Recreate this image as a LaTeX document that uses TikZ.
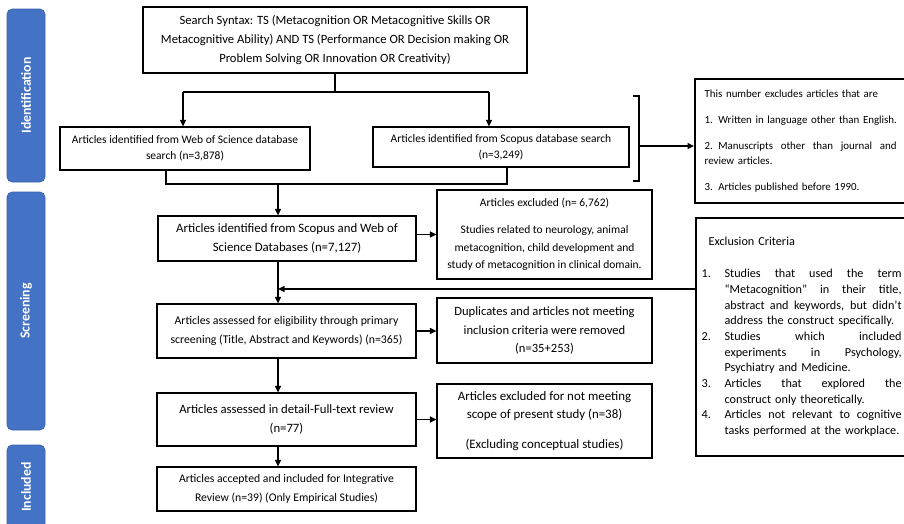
\documentclass[tikz,border=0pt]{standalone}
\usepackage{fontspec}
\setmainfont{Carlito}
\usetikzlibrary{arrows.meta}
\definecolor{phaseblue}{HTML}{4472C4}
\definecolor{phaseedge}{HTML}{3A62AC}
\newcommand{\jline}[2]{\makebox[#1][s]{\spaceskip=0pt\relax #2}}
\newcommand{\lline}[2]{\makebox[#1][l]{#2}}
\begin{document}
\begin{tikzpicture}[x=1pt,y=-1pt,
  box/.style={draw, line width=1.1pt, align=center, inner sep=0pt},
  heavybox/.style={draw, line width=2.2pt, align=left, inner sep=0pt},
  conn/.style={line width=1.1pt},
  arr/.style={line width=1.1pt, -{Triangle[length=6.5pt,width=6pt]}},
  phase/.style={fill=phaseblue, draw=phaseedge, rounded corners=5pt, line width=0.6pt},
  phasetext/.style={text=white, font=\fontsize{13.8}{15}\selectfont\bfseries, rotate=90}
]
\useasboundingbox (0,0) rectangle (904,523);

% phase bars
\node[phase, minimum width=38pt, minimum height=173pt] (pid) at (26,95.5) {};
\node[phasetext] (pidt) at (pid.center) {Identification};
\node[phase, minimum width=38pt, minimum height=238pt] (psc) at (26,311) {};
\node[phasetext] (psct) at (psc.center) {Screening};
\node[phase, minimum width=38pt, minimum height=100pt] (pin) at (26,495) {};
\node[phasetext] (pint) at (26,487) {Included};

% boxes
\node[box, minimum width=384pt, minimum height=66pt, font=\fontsize{12.6}{19}\selectfont] (search) at (335,40)
 {Search Syntax: TS (Metacognition OR Metacognitive Skills OR\\
  Metacognitive Ability) AND TS (Performance OR Decision making OR\\
  Problem Solving OR Innovation OR Creativity)};

\node[box, minimum width=250pt, minimum height=43pt, font=\fontsize{11.5}{16}\selectfont] (wos) at (185,148.5)
 {Articles identified from Web of Science database\\ search (n=3,878)};
\node[box, minimum width=256pt, minimum height=40pt, font=\fontsize{11.5}{16}\selectfont] (scopus) at (501,147)
 {Articles identified from Scopus database search\\ (n=3,249)};

\node[heavybox, minimum width=212pt, minimum height=124pt, text width=193pt, anchor=west,
      font=\fontsize{10.9}{15}\selectfont] (note) at (694,141)
 {This number excludes articles that are\\[11pt]
  1. Written in language other than English.\\[11pt]
  \jline{192pt}{2. Manuscripts other than journal and}\\
  review articles.\\[11pt]
  3. Articles published before 1990.};

\node[box, minimum width=258pt, minimum height=45pt, font=\fontsize{12.8}{19}\selectfont] (merged) at (287,238.5)
 {Articles identified from Scopus and Web of\\ Science Databases (n=7,127)};

\node[box, minimum width=215pt, minimum height=89pt, font=\fontsize{11.5}{17.5}\selectfont] (excl) at (544.5,234.5)
 {Articles excluded (n= 6,762)\\[10pt]
  Studies related to neurology, animal\\
  metacognition, child development and\\
  study of metacognition in clinical domain.};

\node[heavybox, minimum width=212pt, minimum height=238pt, text width=201pt, anchor=west,
      font=\fontsize{12.2}{15.7}\selectfont] (crit) at (695,337)
 {\hspace*{7pt}Exclusion Criteria\\[16pt]
  \lline{23pt}{1.}\jline{177pt}{Studies that used the term}\\
  \hspace*{23pt}\jline{177pt}{“Metacognition” in their title,}\\
  \hspace*{23pt}\jline{177pt}{abstract and keywords, but didn’t}\\
  \hspace*{23pt}\lline{177pt}{address the construct specifically.}\\
  \lline{23pt}{2.}\jline{177pt}{Studies which included}\\
  \hspace*{23pt}\jline{177pt}{experiments in Psychology,}\\
  \hspace*{23pt}\lline{177pt}{Psychiatry and Medicine.}\\
  \lline{23pt}{3.}\jline{177pt}{Articles that explored the}\\
  \hspace*{23pt}\lline{177pt}{construct only theoretically.}\\
  \lline{23pt}{4.}\jline{177pt}{Articles not relevant to cognitive}\\
  \hspace*{23pt}\lline{177pt}{tasks performed at the workplace.}};

\node[box, minimum width=259pt, minimum height=54pt, font=\fontsize{11.8}{19}\selectfont] (elig) at (286.5,331)
 {Articles assessed for eligibility through primary\\ screening (Title, Abstract and Keywords) (n=365)};

\node[box, minimum width=215pt, minimum height=65pt, font=\fontsize{12.6}{18.5}\selectfont] (dup) at (544.5,330.5)
 {Duplicates and articles not meeting\\ inclusion criteria were removed\\ (n=35+253)};

\node[box, minimum width=259pt, minimum height=53pt, font=\fontsize{12.7}{19}\selectfont] (full) at (286.5,419.5)
 {Articles assessed in detail-Full-text review\\ (n=77)};

\node[box, minimum width=215pt, minimum height=74pt, font=\fontsize{12.9}{18}\selectfont] (scope) at (544.5,421)
 {Articles excluded for not meeting\\ scope of present study (n=38)\\[12pt] (Excluding conceptual studies)};

\node[box, minimum width=259pt, minimum height=44pt, font=\fontsize{11.7}{19}\selectfont] (incl) at (286.5,489)
 {Articles accepted and included for Integrative\\ Review (n=39) (Only Empirical Studies)};

% connectors
\coordinate (jl) at (183,92);
\coordinate (jr) at (489,92);
\draw[conn] (search.south) -- (search.south |- jl);
\draw[conn] (jl) -- (jr);
\draw[arr] (jl) -- (jl |- wos.north);
\draw[arr] (jr) -- (jr |- scopus.north);

\coordinate (ml) at (166,184);
\coordinate (mr) at (507,184);
\coordinate (mc) at (278,184);
\draw[conn] (wos.south -| ml) -- (ml) -- (mr) -- (mr |- scopus.south);
\draw[arr] (mc) -- (mc |- merged.north);

% bracket
\coordinate (bt) at (639,96);
\coordinate (bb) at (639,181);
\coordinate (bm) at (639,146);
\draw[conn] ([xshift=-6pt]bt) -- (bt) -- (bb) -- ([xshift=-6pt]bb);
\draw[arr] (bm) -- (bm -| note.west);

\draw[arr] (merged.east |- excl.west) -- (excl.west);
\draw[arr] (merged.south -| mc) -- (mc |- elig.north);
\coordinate (ca) at (278,289);
\draw[arr] (ca -| crit.west) -- (ca);
\draw[arr] (elig.east) -- (elig.east -| dup.west);
\draw[arr] (elig.south -| mc) -- (mc |- full.north);
\draw[arr] (full.east) -- (full.east -| scope.west);
\draw[arr] (full.south -| mc) -- (mc |- incl.north);
\end{tikzpicture}
\end{document}
